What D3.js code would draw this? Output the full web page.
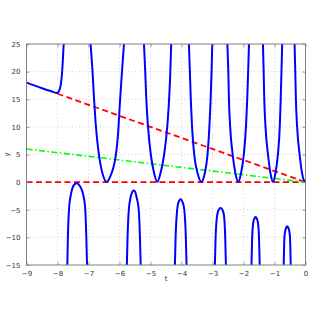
<!DOCTYPE html>
<html>
<head>
<meta charset="utf-8">
<script src="https://cdn.jsdelivr.net/npm/d3@7"></script>
<style>
  body { margin: 0; background: #fff; }
  text { font-family: "DejaVu Sans", sans-serif; }
</style>
</head>
<body>
<div id="chart"></div>
<script>
//size of the figure and of the plot box
var width = 314,
  height = 319;
var margin = { top: 44, right: 8.5, bottom: 54, left: 26.5 };

//axis ticks
var xTicks = [-9, -8, -7, -6, -5, -4, -3, -2, -1, 0];
var yTicks = [-15, -10, -5, 0, 5, 10, 15, 20, 25];

//blue solution, one array per branch (t, y)
var branchA = [[-9, 18], [-8.5, 17.0], [-8.2, 16.45], [-8.03, 16.15], [-7.98, 16.25], [-7.93, 16.8], [-7.89, 17.8], [-7.86, 19.3], [-7.83, 21.8], [-7.81, 24], [-7.795, 25.5]];
var branchB = [[-7.685, -15.5], [-7.665, -10], [-7.63, -5], [-7.58, -2.6], [-7.52, -1.1], [-7.45, -0.4], [-7.39, -0.2], [-7.32, -0.4], [-7.24, -1.1], [-7.17, -2.3], [-7.11, -4.5], [-7.07, -10], [-7.045, -15.5]];
var branchC = [[-6.94, 25.5], [-6.87, 20], [-6.82, 15], [-6.77, 10.7], [-6.7, 6.6], [-6.62, 3.4], [-6.53, 1.2], [-6.41, 0.05], [-6.3, 1.0], [-6.2, 2.6], [-6.12, 4.8], [-6.05, 8.5], [-5.98, 15], [-5.92, 20], [-5.85, 25.5]];
var branchD = [[-5.765, -15.5], [-5.74, -10], [-5.7, -5], [-5.64, -2.7], [-5.59, -1.8], [-5.54, -1.5], [-5.49, -1.8], [-5.45, -2.7], [-5.38, -5], [-5.34, -10], [-5.315, -15.5]];
var branchE = [[-5.215, 25.5], [-5.17, 20], [-5.135, 15], [-5.08, 10], [-4.99, 5], [-4.89, 1.8], [-4.78, 0.05], [-4.67, 1.8], [-4.56, 5], [-4.46, 10], [-4.4, 15], [-4.36, 20], [-4.33, 25.5]];
var branchF = [[-4.215, -15.5], [-4.19, -10], [-4.14, -5], [-4.1, -3.7], [-4.03, -3.1], [-3.96, -3.7], [-3.91, -5], [-3.86, -10], [-3.835, -15.5]];
var branchG = [[-3.765, 25.5], [-3.73, 20], [-3.7, 15], [-3.66, 10], [-3.59, 5], [-3.48, 1.6], [-3.36, 0.05], [-3.25, 1.6], [-3.16, 5], [-3.1, 10], [-3.06, 15], [-3.03, 20], [-3.005, 25.5]];
var branchH = [[-2.925, -15.5], [-2.9, -10], [-2.85, -6], [-2.8, -5.0], [-2.74, -4.7], [-2.68, -5.0], [-2.63, -6], [-2.59, -10], [-2.565, -15.5]];
var branchI = [[-2.525, 25.5], [-2.49, 20], [-2.47, 15], [-2.43, 10], [-2.35, 5], [-2.26, 1.6], [-2.17, 0.05], [-2.08, 1.6], [-1.99, 5], [-1.92, 10], [-1.88, 15], [-1.85, 20], [-1.82, 25.5]];
var branchJ = [[-1.745, -15.5], [-1.72, -10], [-1.69, -7.5], [-1.65, -6.6], [-1.61, -6.3], [-1.57, -6.6], [-1.53, -7.5], [-1.5, -10], [-1.475, -15.5]];
var branchK = [[-1.375, 25.5], [-1.35, 20], [-1.33, 15], [-1.29, 10], [-1.21, 5], [-1.13, 1.6], [-1.05, 0.05], [-0.97, 1.6], [-0.89, 5], [-0.83, 10], [-0.8, 15], [-0.775, 20], [-0.75, 25.5]];
var branchL = [[-0.705, -15.5], [-0.68, -10], [-0.66, -9], [-0.62, -8.2], [-0.59, -8.0], [-0.56, -8.2], [-0.52, -9], [-0.5, -10], [-0.475, -15.5]];
var branchM = [[-0.355, 25.5], [-0.33, 20], [-0.31, 15], [-0.27, 10], [-0.19, 5], [-0.11, 1.6], [-0.04, 0.2], [0, 0.4]];
var branches = [branchA, branchB, branchC, branchD, branchE, branchF, branchG, branchH, branchI, branchJ, branchK, branchL, branchM];

//reference lines
var redLine = [[-8, 16], [0, 0]];
var zeroLine = [[-9, 0], [0, 0]];
var greenLine = [[-9, 6], [0, 0]];

var svg = d3
  .select("#chart")
  .append("svg")
  .attr("width", width)
  .attr("height", height);

var x = d3.scaleLinear().domain([-9, 0]).range([margin.left, width - margin.right]);
var y = d3.scaleLinear().domain([-15, 25]).range([height - margin.bottom, margin.top]);

var fmt = function(d) {
  return d < 0 ? "\u2212" + Math.abs(d) : d;
};

//dotted grid
svg
  .append("g")
  .selectAll("line")
  .data(xTicks.slice(1, -1))
  .enter()
  .append("line")
  .attr("x1", d => x(d))
  .attr("x2", d => x(d))
  .attr("y1", y(-15))
  .attr("y2", y(25))
  .attr("stroke", "#c8c8c8")
  .attr("stroke-width", 0.8)
  .attr("stroke-dasharray", "1,2.5");
svg
  .append("g")
  .selectAll("line")
  .data(yTicks.slice(1, -1))
  .enter()
  .append("line")
  .attr("x1", x(-9))
  .attr("x2", x(0))
  .attr("y1", d => y(d))
  .attr("y2", d => y(d))
  .attr("stroke", "#c8c8c8")
  .attr("stroke-width", 0.8)
  .attr("stroke-dasharray", "1,2.5");

//clip for the curves
svg
  .append("clipPath")
  .attr("id", "clip")
  .append("rect")
  .attr("x", x(-9))
  .attr("y", y(25))
  .attr("width", x(0) - x(-9))
  .attr("height", y(-15) - y(25));

var plot = svg.append("g").attr("clip-path", "url(#clip)");

var line = d3
  .line()
  .x(d => x(d[0]))
  .y(d => y(d[1]));
var smooth = d3
  .line()
  .curve(d3.curveMonotoneX)
  .x(d => x(d[0]))
  .y(d => y(d[1]));

plot
  .append("path")
  .attr("d", line(zeroLine))
  .attr("fill", "none")
  .attr("stroke", "#ff0000")
  .attr("stroke-width", 1.8)
  .attr("stroke-dasharray", "6,3.5");
plot
  .append("path")
  .attr("d", line(redLine))
  .attr("fill", "none")
  .attr("stroke", "#ff0000")
  .attr("stroke-width", 1.8)
  .attr("stroke-dasharray", "6,3.5");
plot
  .append("path")
  .attr("d", line(greenLine))
  .attr("fill", "none")
  .attr("stroke", "#00ff00")
  .attr("stroke-width", 1.6)
  .attr("stroke-dasharray", "6,2.5,1.5,2.5");

plot
  .selectAll(".branch")
  .data(branches)
  .enter()
  .append("path")
  .attr("class", "branch")
  .attr("d", d => smooth(d))
  .attr("fill", "none")
  .attr("stroke", "#0000ff")
  .attr("stroke-width", 2)
  .attr("stroke-linejoin", "round");

//axes, ticks inside on all four sides like matlab
var axisColor = "#808080";
function styleAxis(g) {
  g.select(".domain").remove();
  g.selectAll(".tick line").attr("stroke", axisColor).attr("stroke-width", 0.8);
  g.selectAll(".tick text").attr("fill", "#333").style("font-size", "7px");
}

svg
  .append("g")
  .attr("transform", "translate(0," + y(-15) + ")")
  .call(d3.axisBottom(x).tickValues(xTicks).tickFormat(fmt).tickSizeInner(-3).tickPadding(6))
  .call(styleAxis);
svg
  .append("g")
  .attr("transform", "translate(0," + y(25) + ")")
  .call(d3.axisTop(x).tickValues(xTicks).tickFormat("").tickSizeInner(-3))
  .call(styleAxis);
svg
  .append("g")
  .attr("transform", "translate(" + x(-9) + ",0)")
  .call(d3.axisLeft(y).tickValues(yTicks).tickFormat(fmt).tickSizeInner(-3).tickPadding(6))
  .call(styleAxis);
svg
  .append("g")
  .attr("transform", "translate(" + x(0) + ",0)")
  .call(d3.axisRight(y).tickValues(yTicks).tickFormat("").tickSizeInner(-3))
  .call(styleAxis);

//box
svg
  .append("rect")
  .attr("x", x(-9))
  .attr("y", y(25))
  .attr("width", x(0) - x(-9))
  .attr("height", y(-15) - y(25))
  .attr("fill", "none")
  .attr("stroke", axisColor)
  .attr("stroke-width", 1);

//axis labels
svg
  .append("text")
  .attr("x", (x(-9) + x(0)) / 2)
  .attr("y", 281)
  .attr("text-anchor", "middle")
  .style("font-size", "7px")
  .attr("fill", "#333")
  .text("t");
svg
  .append("text")
  .attr("transform", "translate(9," + (y(25) + y(-15)) / 2 + ") rotate(-90)")
  .attr("text-anchor", "middle")
  .style("font-size", "7px")
  .attr("fill", "#333")
  .text("y");
</script>
</body>
</html>
